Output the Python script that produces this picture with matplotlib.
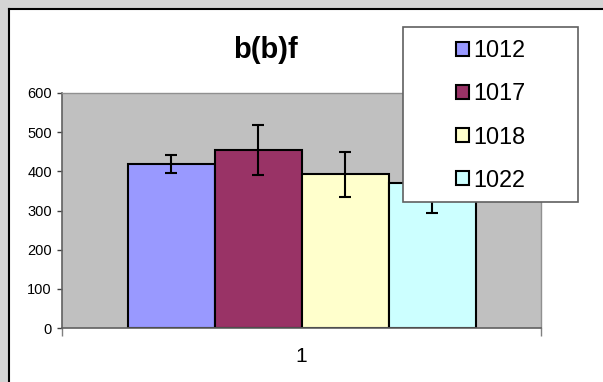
import matplotlib
matplotlib.use("Agg")
import matplotlib.pyplot as plt
import numpy as np
from matplotlib.patches import Rectangle, Patch
from matplotlib.lines import Line2D

plt.rcParams['font.family'] = ['Liberation Sans', 'DejaVu Sans']

series = ["1012", "1017", "1018", "1022"]
values = [418, 455, 392, 370]
errors = [23, 64, 57, 76]
colors = ["#9999FF", "#993366", "#FFFFCC", "#CCFFFF"]
category = "1"
yticks = [0, 100, 200, 300, 400, 500, 600]
title = "b(b)f"

W, H = 603, 382
fig = plt.figure(figsize=(W / 100, H / 100), dpi=100, facecolor="#d4d4d4")

# white chart area with black border on left and top
fig.add_artist(Rectangle((8 / W, 0), 1 - 8 / W, (H - 8) / H,
                         transform=fig.transFigure, facecolor="white",
                         edgecolor="none", zorder=-2))
fig.add_artist(Line2D([8.5 / W, 8.5 / W], [0, (H - 8.5) / H], transform=fig.transFigure,
                      color="black", linewidth=1.5, zorder=-1))
fig.add_artist(Line2D([8.5 / W, 1], [(H - 8.5) / H, (H - 8.5) / H], transform=fig.transFigure,
                      color="black", linewidth=1.5, zorder=-1))

ax = fig.add_axes([62 / W, (H - 328) / H, 479 / W, 235 / H])
ax.set_facecolor("#c0c0c0")

bw = 348 / 479 / len(series)
xs = (np.arange(len(series)) - (len(series) - 1) / 2) * bw
ax.bar(xs, values, width=bw, color=colors, edgecolor="black", linewidth=1.5,
       yerr=errors, capsize=4, error_kw=dict(elinewidth=1.5, capthick=1.5, ecolor="black"),
       zorder=2)

ax.set_xlim(-0.5, 0.5)
ax.set_ylim(0, 600)
ax.set_yticks(yticks)
ax.set_yticklabels([str(v) for v in yticks], fontsize=10.5)
ax.tick_params(axis="y", length=3.6, width=1, color="#404040", pad=3.6)
ax.set_xticks([-0.5, 0.5])
ax.set_xticklabels(["", ""])
ax.tick_params(axis="x", which="major", length=6, width=1, color="#808080")
ax.set_xticks([0], minor=True)
ax.set_xticklabels([category], minor=True, fontsize=15)
ax.tick_params(axis="x", which="minor", length=0, pad=14)
for s in ["left", "bottom"]:
    ax.spines[s].set_color("#606060")
    ax.spines[s].set_linewidth(1.2)
for s in ["top", "right"]:
    ax.spines[s].set_color("#909090")
    ax.spines[s].set_linewidth(1)

fig.text(265 / W, (H - 50) / H, title, fontsize=21, fontweight="bold",
         ha="center", va="center")

# legend box
lx0, ly0, lw, lh = 403 / W, (H - 202) / H, 175 / W, 175 / H
fig.add_artist(Rectangle((lx0, ly0), lw, lh, transform=fig.transFigure,
                         facecolor="white", edgecolor="#606060", linewidth=1.2, zorder=5))
handles = [Patch(facecolor=c, edgecolor="black", linewidth=1.5) for c in colors]
leg = fig.legend(handles, series, loc="center", bbox_to_anchor=(lx0, ly0 - 1 / H, lw, lh),
                 bbox_transform=fig.transFigure, frameon=False, fontsize=16.8,
                 handlelength=0.55, handleheight=0.55, handletextpad=0.2,
                 labelspacing=0.86)
leg.set_zorder(6)

fig.savefig("out.png", dpi=100, facecolor=fig.get_facecolor())
